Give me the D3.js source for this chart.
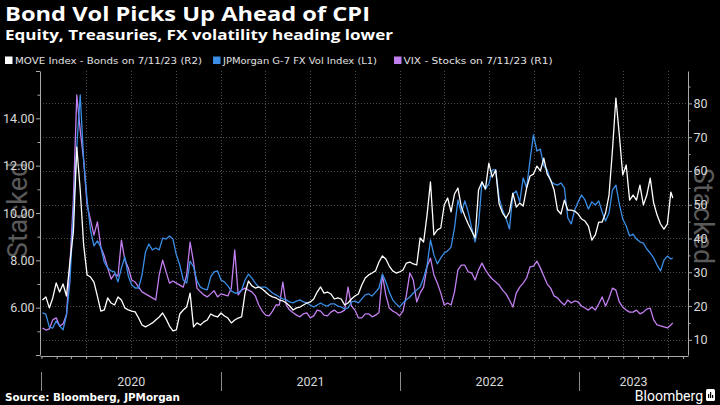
<!DOCTYPE html>
<html><head><meta charset="utf-8">
<script src="https://cdn.jsdelivr.net/npm/d3@7"></script>
<style>body{margin:0;background:#000;} svg{display:block;}</style>
</head><body>
<svg id="c" width="720" height="405"></svg>
<script>
// ---- data (weekly Fridays from 2020-01-03 to 2023-07-07, plus 2023-07-11) ----
const firstDate = new Date(2020, 0, 3);
const lastWeekly = new Date(2023, 6, 8);
const finalDate = new Date(2023, 6, 11);

const move = [
60.7,62.8,55.4,62.1,72.2,66.1,71.5,63.4,86.3,106.5,
163.7,134.8,97.8,77.6,76.2,72.8,63.4,53.3,54.0,62.1,
58.7,57.4,62.8,60.7,55.4,54.0,53.3,52.7,48.6,43.9,
42.6,43.9,45.3,47.3,49.3,52.0,48.0,43.2,39.9,40.6,
51.3,54.0,56.0,65.4,42.6,45.3,43.9,46.0,47.3,51.3,
50.0,49.3,52.0,50.0,48.6,45.3,47.3,48.6,49.3,65.4,
73.5,70.2,68.8,69.5,68.1,66.1,64.1,62.8,62.1,60.7,
60.1,58.7,56.7,54.0,55.4,56.0,57.4,58.7,59.4,61.4,
66.1,69.5,65.4,66.1,64.8,61.4,62.1,61.4,57.4,58.7,
61.4,63.4,64.8,70.8,75.5,77.6,78.9,80.3,86.3,90.4,
88.3,83.6,80.3,78.9,79.6,80.9,85.6,86.3,85.0,84.3,
102.5,99.8,117.9,140.2,104.5,107.9,109.2,124.7,129.4,120.0,
132.1,136.1,123.3,117.3,111.9,107.2,102.5,134.8,140.2,135.4,
152.9,143.5,148.2,125.3,119.3,115.9,120.0,132.7,123.3,126.0,
124.0,136.1,144.2,145.5,150.9,147.6,156.3,145.5,141.5,134.8,
121.3,118.6,128.0,121.3,121.3,120.6,118.6,115.3,113.9,110.5,
101.1,104.5,113.2,113.2,119.3,131.4,161.7,196.7,171.8,144.9,
151.6,128.0,131.4,128.0,138.1,124.7,131.4,142.8,126.0,117.9,
111.9,108.5,111.9,133.4,129.4];

const jpm = [
5.78,5.73,5.18,5.14,5.44,5.23,5.06,5.69,7.09,9.92,
12.79,14.99,12.24,10.55,9.28,8.61,8.82,8.56,7.93,7.68,
7.55,7.51,7.09,7.68,8.14,7.34,6.96,6.83,6.83,7.38,
8.35,8.69,8.44,8.52,8.44,8.94,8.90,9.03,8.90,8.23,
7.80,7.17,7.04,7.97,7.72,7.13,6.87,6.79,6.75,7.30,
7.51,7.55,7.17,7.09,6.92,6.71,6.62,6.62,6.75,7.17,
7.42,7.25,7.04,6.87,6.87,6.87,6.75,6.62,6.54,6.45,
6.37,6.33,6.24,6.20,6.28,6.33,6.24,6.20,6.11,6.03,
6.11,6.20,6.11,6.07,6.16,6.16,6.07,6.03,5.94,5.99,
6.24,6.28,6.20,6.37,6.54,6.58,6.49,6.66,6.83,7.42,
7.09,6.66,6.33,6.16,6.03,6.20,6.33,6.45,6.62,6.75,
6.87,7.25,7.76,8.86,8.23,7.85,8.10,8.31,8.40,8.56,
9.37,10.55,10.00,10.51,10.04,9.37,8.78,9.49,11.31,11.01,
11.23,11.82,11.82,10.63,10.13,9.79,9.32,10.80,10.93,10.47,
11.48,11.06,12.24,13.30,12.62,12.70,11.99,11.82,11.35,11.23,
11.18,11.27,11.06,9.79,9.54,10.13,10.47,10.76,10.55,10.17,
10.47,10.34,10.51,10.04,9.66,10.00,10.97,11.18,10.38,9.75,
9.45,9.03,9.11,8.90,8.78,8.73,8.48,8.31,8.10,7.80,
7.55,8.01,8.18,8.06,8.10];

const vix = [
13.5,12.9,13.2,15.9,16.5,14.1,14.7,17.4,32.1,51.4,
82.5,72.1,63.2,49.9,45.5,41.0,44.9,37.5,34.8,31.3,
28.0,29.5,28.9,39.5,33.6,31.3,27.7,27.1,25.6,24.2,
23.6,23.0,22.4,21.8,29.2,33.6,30.1,26.8,27.4,26.8,
26.2,25.6,29.2,38.9,33.0,25.3,24.2,23.3,22.7,23.6,
24.5,22.7,23.6,23.3,23.0,25.3,36.6,23.3,24.7,25.3,
24.7,24.2,23.0,20.3,18.5,17.3,17.1,18.5,20.3,20.3,
27.1,20.3,18.8,18.0,17.3,16.8,17.7,18.0,16.5,17.1,
18.8,18.5,17.3,17.1,18.2,18.8,18.0,18.2,18.8,25.6,
20.0,18.8,16.5,16.5,17.7,17.7,16.8,17.3,18.0,29.2,
23.3,19.4,18.5,18.0,17.1,18.5,23.3,29.8,27.7,21.2,
23.9,25.6,31.6,34.2,29.2,26.8,23.9,20.3,20.9,20.3,
24.2,30.7,32.1,32.1,30.1,29.8,27.7,30.7,32.7,30.7,
29.2,28.0,27.1,26.2,24.7,23.6,21.8,19.7,23.9,25.6,
26.8,28.3,31.6,31.8,33.3,31.3,28.9,26.5,25.3,23.0,
22.4,21.2,20.3,21.8,20.9,21.5,21.2,20.0,19.4,18.8,
19.7,18.8,20.6,22.7,20.0,22.4,25.3,24.7,21.2,19.7,
18.8,18.2,18.2,18.8,17.7,18.2,19.1,19.4,15.9,14.4,
14.1,13.8,13.5,14.4,15.0];

const leftTicks = [4,5,6,7,8,9,10,11,12,13,14,15,16];
const leftLabels = [6,8,10,12,14];
const rightTicks = [10,15,20,25,30,35,40,45,50,55,60,65,70,75,80,85];
const rightLabels = [10,20,30,40,50,60,70,80];
const years = [2020,2021,2022,2023];

const seriesNames = ["MOVE Index - Bonds on 7/11/23 (R2)", "JPMorgan G-7 FX Vol Index (L1)", "VIX - Stocks on 7/11/23 (R1)"];
const colors = {move:"#ffffff", jpm:"#3a8ee6", vix:"#c27ff0"};

// ---- build rows ----
const dates = d3.timeFriday.range(firstDate, lastWeekly);
dates.push(finalDate);
const rows = dates.map((d,i)=>({date:d, move:move[i], jpm:jpm[i], vix:vix[i]}));

// ---- layout ----
const svg = d3.select("#c");
svg.append("rect").attr("width",720).attr("height",405).attr("fill","#000");
const L = 40, R = 688, T = 71, B = 356;

const x = d3.scaleTime().domain([new Date(2019,11,29), new Date(2023,7,11)]).range([L, R]);
const yL = d3.scaleLinear().domain([4,16]).range([355,71]);
const yR1 = d3.scaleLinear().domain([5.5,89.6]).range([355,71]);
const yR2 = d3.scaleLinear().domain([23.7,214.9]).range([355,71]);

// watermark
svg.append("text").attr("transform","translate(27,210) rotate(-90)")
  .attr("text-anchor","middle").attr("font-family","Roboto, sans-serif").attr("font-size",27)
  .attr("fill","#5a5a5a").text("Stacked");
svg.append("text").attr("transform","translate(694,216) rotate(90)")
  .attr("text-anchor","middle").attr("font-family","Roboto, sans-serif").attr("font-size",27)
  .attr("fill","#5a5a5a").text("Stacked");

// grid
const grid = svg.append("g").attr("stroke","#4d4d4d").attr("stroke-width",1).attr("stroke-dasharray","1,2");
rightLabels.forEach(v=>{
  const yy = Math.round(yR1(v))+0.5;
  grid.append("line").attr("x1",L).attr("x2",R).attr("y1",yy).attr("y2",yy);
});
d3.timeMonth.every(3).range(new Date(2020,3,1), new Date(2023,7,2)).forEach(d=>{
  const xx = Math.round(x(d))+0.5;
  grid.append("line").attr("x1",xx).attr("x2",xx).attr("y1",T).attr("y2",B);
});

// lines
const mk = (key, ys) => d3.line().x(d=>x(d.date)).y(d=>ys(d[key]));
svg.append("path").datum(rows).attr("d", mk("vix", yR1)).attr("fill","none").attr("stroke",colors.vix).attr("stroke-width",1.3).attr("stroke-linejoin","round");
svg.append("path").datum(rows).attr("d", mk("jpm", yL)).attr("fill","none").attr("stroke",colors.jpm).attr("stroke-width",1.3).attr("stroke-linejoin","round");
svg.append("path").datum(rows).attr("d", mk("move", yR2)).attr("fill","none").attr("stroke",colors.move).attr("stroke-width",1.3).attr("stroke-linejoin","round");

// axes
const axisColor = "#aaaaaa", labelColor = "#d8d8d8";
const gl = svg.append("g").attr("transform",`translate(${L},0)`)
  .call(d3.axisLeft(yL).tickValues(leftTicks).tickSize(4).tickSizeOuter(0)
    .tickFormat(d => leftLabels.includes(d) ? d3.format(".2f")(d) : ""));
gl.selectAll(".tick line").filter(d=>!leftLabels.includes(d) && d!==4 && d!==16).attr("x2",-2.5);
const gr = svg.append("g").attr("transform",`translate(${R},0)`)
  .call(d3.axisRight(yR1).tickValues(rightTicks).tickSize(4).tickSizeOuter(0)
    .tickFormat(d => rightLabels.includes(d) ? d : ""));
gr.selectAll(".tick line").filter(d=>!rightLabels.includes(d)).attr("x2",2.5);
const gb = svg.append("g").attr("transform",`translate(0,${B})`)
  .call(d3.axisBottom(x).ticks(d3.timeMonth.every(1)).tickSize(3).tickSizeOuter(0).tickFormat(""));
[gl,gr,gb].forEach(g=>{
  g.select(".domain").attr("stroke",axisColor);
  g.selectAll(".tick line").attr("stroke",axisColor);
  g.selectAll(".tick text").attr("fill",labelColor).attr("font-family","Roboto, sans-serif").attr("font-size",12.5);
});
gl.selectAll(".tick text").attr("x",-5.5);
gr.selectAll(".tick text").attr("x",5.5);

// year separators and labels
years.forEach(yv=>{
  const x0 = Math.max(x(new Date(yv,0,1)), L);
  const x1 = Math.min(x(new Date(yv+1,0,1)), R);
  const xs = Math.round(x(new Date(yv,0,1)))+0.5;
  svg.append("line").attr("x1",xs).attr("x2",xs).attr("y1",372).attr("y2",391).attr("stroke","#8a8a8a");
  svg.append("text").attr("x",(x0+x1)/2).attr("y",386).attr("text-anchor","middle")
    .attr("font-family","Roboto, sans-serif").attr("font-size",12.5).attr("fill",labelColor).text(yv);
});

// titles
svg.append("text").attr("x",5).attr("y",21).attr("font-family","'Open Sans', sans-serif").attr("font-weight","bold")
  .attr("font-size",19.5).attr("fill","#fff").attr("textLength",365).attr("lengthAdjust","spacingAndGlyphs")
  .text("Bond Vol Picks Up Ahead of CPI");
svg.append("text").attr("x",5).attr("y",40).attr("font-family","'Open Sans', sans-serif").attr("font-weight","bold")
  .attr("font-size",13.5).attr("fill","#fff").attr("textLength",388).attr("lengthAdjust","spacingAndGlyphs")
  .text("Equity, Treasuries, FX volatility heading lower");

// legend
const legendItems = [
  {name:seriesNames[0], color:colors.move, sx:5, tx:15, w:187},
  {name:seriesNames[1], color:colors.jpm, sx:213, tx:223, w:154},
  {name:seriesNames[2], color:colors.vix, sx:394, tx:403.5, w:149}
];
legendItems.forEach(it=>{
  svg.append("rect").attr("x",it.sx).attr("y",56.5).attr("width",7.5).attr("height",7.5).attr("fill",it.color);
  svg.append("text").attr("x",it.tx).attr("y",64).attr("font-family","'DejaVu Sans', sans-serif")
    .attr("font-size",9.5).attr("fill","#e0e0e0").attr("textLength",it.w).attr("lengthAdjust","spacingAndGlyphs").text(it.name);
});

// footer
svg.append("text").attr("x",5).attr("y",401).attr("font-family","'DejaVu Sans', sans-serif").attr("font-weight","bold")
  .attr("font-size",10.5).attr("fill","#fff").attr("textLength",175).attr("lengthAdjust","spacingAndGlyphs")
  .text("Source: Bloomberg, JPMorgan");
svg.append("text").attr("x",703).attr("y",401).attr("text-anchor","end").attr("font-family","Roboto, sans-serif")
  .attr("font-size",14).attr("fill","#fff").text("Bloomberg");
const logo = svg.append("g").attr("transform","translate(706,389)");
logo.append("rect").attr("width",9).attr("height",12).attr("rx",1.5).attr("fill","#fff");
[[2,5,1.2],[4,3,1.2],[6,6,1.2]].forEach(([bx,by,bw])=>logo.append("rect").attr("x",bx).attr("y",by).attr("width",bw).attr("height",9-by).attr("fill","#000"));
</script>
</body></html>
